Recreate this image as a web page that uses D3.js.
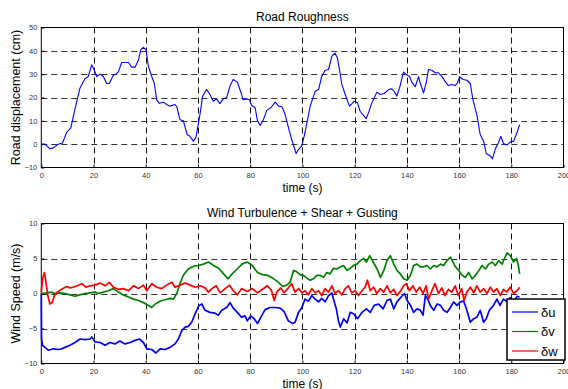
<!DOCTYPE html>
<html>
<head>
<meta charset="utf-8">
<script src="https://cdn.jsdelivr.net/npm/d3@7"></script>
<style>
  html, body { margin: 0; padding: 0; background: #fff; }
  svg { display: block; font-family: "Liberation Sans", Arial, sans-serif; }
</style>
</head>
<body>
<svg id="chart" width="568" height="389"></svg>
<script>
// Road roughness profile (time in s, displacement in cm)
const roadT = [0,1.4,3.3,4.6,6.5,8.1,9.7,11.3,12.9,14.8,16.7,18,19.3,20.2,21.2,22.5,23.8,25,26,27.6,28.6,29.5,30.8,32.1,33.4,34.6,35.9,37.2,38.1,39.1,40.1,41,42.3,43.3,44.2,45.2,46.8,48,49.3,51.2,51.9,53.1,54.4,55.9,56.9,58.2,59.2,60.8,61.8,63.3,64.6,65.9,67.1,68.4,69.7,71,72.3,73.5,75.1,76.3,77.3,78.6,79.7,80.6,81.9,82.8,83.8,85.1,86.4,87.9,89.6,90.9,92.2,93.4,94.2,95.9,97.6,98.5,99.8,101,103,104.9,106.2,107.4,108.7,110,111.3,112.5,113.4,114.2,115.1,116.4,118,119,119.8,121.1,122.1,123.4,124.4,125.3,126.6,128.5,129.8,131.3,133,134.2,135.1,136.2,137.4,138.7,139.7,141,141.9,143.2,144.5,145.1,146.4,147.4,148.3,149.6,150.8,152.1,153.4,154.6,155.9,157.2,158.5,159.4,160.2,161.5,163,164.3,165.3,166.8,168.1,169.4,170.4,172,172.8,173.9,175.1,176,177,178.3,179.6,180.9,182.2,183.2];
const roadV = [0,0,-2,-1.6,0,0.5,5,7,15,24,28,29,34,32,29,30,29,26,26,29.5,30,31,35,35,35,33,33,36,40.5,41.5,40.5,33.4,29,26,19,17.5,18,17,16.3,17,16,10.5,10,4,3.4,1.3,2.7,13,20.6,23.4,21.3,18.4,19.4,17.4,19.4,20,25,27.7,26.6,22.7,19,19.4,19,16.6,15.6,10,8,10.6,14.6,15.6,18,16.3,16,12.7,9,2,-4,-2.3,-0.6,5,16.3,22.7,23.4,29,31.7,32,37.7,39,37,32,25.6,21.3,16.3,17.4,18.4,17.7,14.1,12.3,10.9,13.4,17.7,22.3,21.3,21.7,23.4,23.7,22.7,20.6,24.9,30.9,29.9,29.1,26.6,24.6,28.9,26.3,22,26.3,32,31.7,30.6,30.6,29.1,27,25.1,25.6,25.1,26.3,28.9,27.7,27.4,26,19.1,12.7,4.1,1.3,-4,-5.1,-6.3,-2,0.6,3.4,0.3,-0.4,0.9,1.3,5,8.4];

// Wind components (m/s)
const uT = [0,0.1,0.5,1.4,2.7,4.6,6.5,7.8,9.1,11,12.9,14.8,16.7,18.7,19.3,20.6,22.5,24.4,26.3,28.2,30.1,32.1,34,35.9,37.6,39.1,40.4,42.3,43.9,45.5,47.4,49.3,51.2,52.5,53.8,55.1,56.3,57.6,58.9,60.4,61.5,62.7,64.6,66.5,67.8,69.1,71,72.3,73.5,75.1,76.7,78,78.9,80.2,81.5,82.8,83.8,85.7,87.6,89.6,91.5,93,94.6,96.3,97.2,98.5,99.8,101,102.3,103.6,104.9,106.2,107.4,108.7,110,111.3,111.9,113,113.8,114.5,115.8,117.1,118.3,119.6,121.1,122.8,124.5,126,127.5,129.2,130.9,132.4,133.7,135,136.2,137.8,139.1,140.1,141.4,142.6,143.9,145.2,146.2,147.1,148,149,150.3,151.6,152.9,154.1,155.4,156.7,157.9,159.2,160.5,161.8,163,164.3,165.6,166.8,168.1,169.4,170.4,171.6,173.2,174.5,175.7,177,178.3,179.6,181,182.2,183.2];
const uV = [0,-6.5,-7.4,-7.7,-8.1,-7.9,-8,-7.9,-7.7,-7.4,-7,-6.5,-6.6,-6.5,-6.2,-6.9,-7,-7.4,-7,-7.2,-6.8,-7.2,-7,-6.7,-6.5,-7,-7.9,-8,-8.5,-7.9,-8,-7.7,-7.2,-6.5,-5.3,-4.8,-4.7,-4.1,-2.9,-1.7,-1.5,-2.4,-2.7,-2.8,-3.1,-2.4,-2,-1.3,-2.1,-2.7,-3.4,-3.2,-3.9,-3.2,-3.6,-4.3,-3.6,-2.3,-2,-2,-2.1,-2.6,-3.9,-4.3,-4.1,-2.7,-2,-0.8,-1.1,-0.3,-0.8,-1.2,-0.7,-1.2,-0.3,0.1,-0.8,-2.2,-3.9,-4.8,-3.6,-4.2,-2.7,-2.9,-3.6,-2.7,-2.2,-2.7,-1.7,-1.5,-2.2,-1,-0.8,-2.2,-1.2,-0.5,0,-1,-1.7,-2.7,-2.2,-2.4,-3.1,-0.3,-0.8,-1.7,-2.4,-1.5,-1.7,-2.4,-2.7,-2,-1.2,-1.7,-1.2,-1.1,-2.4,-4.1,-3.6,-3.4,-2.4,-4.1,-3.6,-2.4,-1.7,-0.8,-1.7,-0.8,-1.1,-0.6,-1.2,-0.4,-0.5];

const vT = [0,2,3.9,5.2,7.2,9.1,11,12.9,14.8,16.7,18.7,20.6,21.9,23.8,25.7,27.6,29.5,31.4,33.4,35.3,37.2,39.1,41,42.3,43.6,45.5,47.4,49.3,50.6,51.9,53.1,54.4,56.3,58.3,60.2,62.1,64,66,67.9,69.8,71.5,73.1,75,76.9,78.9,80.8,82.8,84.7,86.6,88.6,90.5,92.5,94,95.3,96.6,97.8,99.1,100.4,101.7,103,104.2,105.5,106.8,108.1,109.3,110.6,111.9,113.2,114.5,115.8,117.1,118.3,119.6,120.9,122.2,123.5,124.5,125.8,127.1,128.6,129.9,131.2,132.4,133.7,135,136.2,137.5,138.8,140.1,141.4,142.6,143.9,145.2,146.4,147.7,149,150.3,151.6,152.9,154.1,155.4,156.7,157.7,158.6,159.9,161.2,162.4,163.7,165,166.3,167.6,168.8,170.1,171.4,172.7,173.9,175.2,176.5,177.4,178.4,179.6,180.9,182,182.7,183.2];
const vV = [0,0.1,0.2,0,0.1,0,-0.2,-0.4,-0.2,0,0.1,0.2,0,0.2,0.4,0.7,0.2,-0.2,-0.5,-0.8,-1,-1.3,-1.7,-2,-1.5,-1.1,-0.9,-0.7,-0.8,0,1.4,2.6,3.5,3.9,4,4.2,4.5,4,3.6,2.8,2.1,2.8,3.5,4.2,4.5,4,3,2.7,2.6,2.2,1.7,1,1.2,1.6,3.3,3.1,2.7,2.6,2.2,1.9,2.1,2.6,2.6,2.3,3,2.8,3.6,3.5,3.8,4,3.3,3.6,4,4.2,4.7,5,4.5,5.4,4.5,3.5,2.3,3.3,4.7,5.4,4.2,3.3,2.8,2.1,1.9,2.6,4,4.2,3.8,3.8,4,3.5,4,3.8,4.2,4,4.7,5.2,4.5,3.8,3.3,2.6,2.3,3,2.1,2.6,3.3,4,3.5,4.2,4.5,4,4.7,4.2,5,5.8,5.4,4.5,5,4,2.8];

const wT = [0,0.5,1.2,1.8,2.5,3.3,4.2,5,6.1,7.8,9.7,11,12.3,13.8,15.5,17.1,18.7,20.6,22.5,24.4,26.1,27.6,29.5,31.4,33.4,35.3,37.2,39.1,40.4,42.3,44.2,46.1,48,50,51.2,53.1,55.1,57,58.9,60.9,62.7,64,65.3,67,68.5,70.4,72.1,73.5,75.1,76.7,78.9,80.8,82.8,84.7,86.6,88.2,89.2,90.2,91.7,93,94.6,95.9,97.2,98.5,99.8,101,102.3,103.6,104.9,106.2,107.4,108.7,110,111.3,112.5,113.8,115.1,116.4,117.6,118.9,120.2,121.5,122.8,124,124.9,126,127.2,128.5,129.8,131.1,132.4,133.7,135,136.2,137.5,138.8,139.8,141,142.3,143.6,144.9,146.2,147.4,148.3,149.6,150.8,152.1,153.4,154.6,155.9,157.2,158.5,159.7,161,161.9,163,164.3,165.6,166.8,168.1,169.4,170.7,172,173.2,174.5,175.8,177,178.3,179.6,180.9,182.2,183.2];
const wV = [0.2,2.1,3,1.6,-0.3,-1.5,-1.3,-0.3,0.2,0.6,1,0.8,0.9,1.1,1.4,0.9,1.1,1.2,1.5,1.1,1.6,0.9,0.6,0.7,0.4,1.1,0.7,1.2,0.4,1.4,0.9,0.7,1.2,1.6,0.9,1.2,1.5,1.2,0.9,1.1,0.8,0.2,0.7,1.1,0.1,0.7,1.2,0.4,-0.2,0.7,0.3,0.7,0.1,0.6,1.1,0.4,-1,0.2,0.8,0.1,0.8,1.4,0.2,0.7,0.1,0.4,-0.2,0.7,0.1,0.4,-0.3,0.7,0.2,1.1,0,0.4,-0.2,0.7,1.1,0.1,0.4,-0.3,0.4,0.9,1.9,0.4,0.9,0,0.7,0.2,1.1,0.1,0.6,-0.3,0.3,1.1,1.4,0.4,1.1,0.2,0.9,0,1.1,-0.8,0.4,1.4,0,0.8,-0.3,0.6,0.2,1.1,-0.3,0.7,-1,0.2,0.9,0.1,1.1,0.2,0.7,0,0.9,0.2,0.7,-0.3,0.6,0.2,0.9,0,0.4,0.9];

const xTicks = [0,20,40,60,80,100,120,140,160,180,200];
const roadTicks = [50,40,30,20,10,0,-10];
const windTicks = [10,5,0,-5,-10];
const legendLabels = ["\u03B4u", "\u03B4v", "\u03B4w"];
const colors = { u: "#0000ff", v: "#008000", w: "#ff0000" };

const svg = d3.select("#chart");
const L = 41.3, R = 563.5;

function panel(y0, y1, yDomain, yTicks, title, ylabel) {
  const x = d3.scaleLinear().domain([0, 200]).range([L, R]);
  const y = d3.scaleLinear().domain(yDomain).range([y1, y0]);
  const g = svg.append("g");

  // dashed grid
  g.append("g").selectAll("line").data(xTicks.slice(1, -1)).join("line")
    .attr("x1", d => Math.round(x(d)) + 0.5).attr("x2", d => Math.round(x(d)) + 0.5)
    .attr("y1", y0).attr("y2", y1)
    .attr("stroke", "#111").attr("stroke-dasharray", "6,4");
  g.append("g").selectAll("line").data(yTicks.slice(1, -1)).join("line")
    .attr("x1", L).attr("x2", R)
    .attr("y1", d => Math.round(y(d)) + 0.5).attr("y2", d => Math.round(y(d)) + 0.5)
    .attr("stroke", "#333").attr("stroke-dasharray", "6,4");

  // axes with inward ticks
  const axB = d3.axisBottom(x).tickValues(xTicks).tickSize(-3).tickPadding(5).tickFormat(d3.format("d"));
  const axL = d3.axisLeft(y).tickValues(yTicks).tickSize(-3).tickPadding(4).tickFormat(d3.format("d"));
  const gb = g.append("g").attr("transform", `translate(0,${y1})`).call(axB);
  const gl = g.append("g").attr("transform", `translate(${L},0)`).call(axL);
  [gb, gl].forEach(a => {
    a.select(".domain").remove();
    a.selectAll("line").attr("stroke", "#000");
    a.selectAll("text").attr("font-size", "7.5px").attr("fill", "#333")
      .attr("font-family", "Liberation Sans, Arial, sans-serif");
  });

  // box
  g.append("rect").attr("x", L).attr("y", y0).attr("width", R - L).attr("height", y1 - y0)
    .attr("fill", "none").attr("stroke", "#000").attr("stroke-width", 1);

  g.append("text").attr("x", (L + R) / 2).attr("y", y0 - 7).attr("text-anchor", "middle")
    .attr("font-size", "12px").attr("fill", "#000").text(title);
  g.append("text").attr("x", (L + R) / 2).attr("y", y1 + 24).attr("text-anchor", "middle")
    .attr("font-size", "12px").attr("fill", "#000").text("time (s)");
  g.append("text").attr("transform", `translate(20,${(y0 + y1) / 2}) rotate(-90)`)
    .attr("text-anchor", "middle").attr("font-size", "12.5px").attr("fill", "#000").text(ylabel);

  return { x, y, g };
}

function drawSeries(p, ts, vs, color, width) {
  const pts = ts.map((t, i) => [t, vs[i]]);
  const line = d3.line().x(d => p.x(d[0])).y(d => p.y(d[1]));
  p.g.append("path").datum(pts).attr("d", line)
    .attr("fill", "none").attr("stroke", color).attr("stroke-width", width)
    .attr("stroke-linejoin", "round");
}

const roadPanel = panel(27.5, 167.5, [-10, 50], roadTicks, "Road Roughness", "Road displacement (cm)");
drawSeries(roadPanel, roadT, roadV, colors.u, 1.1);

const windPanel = panel(223.5, 363.5, [-10, 10], windTicks, "Wind Turbulence + Shear + Gusting", "Wind Speed (m/s)");
drawSeries(windPanel, uT, uV, colors.u, 1.7);
drawSeries(windPanel, vT, vV, colors.v, 1.7);
drawSeries(windPanel, wT, wV, colors.w, 1.7);

// legend
const lg = svg.append("g");
lg.append("rect").attr("x", 507).attr("y", 299).attr("width", 58).attr("height", 61)
  .attr("fill", "#fff").attr("stroke", "#000").attr("stroke-width", 1.5);
[colors.u, colors.v, colors.w].forEach((c, i) => {
  const yy = 312 + i * 19.5;
  lg.append("line").attr("x1", 512).attr("x2", 538).attr("y1", yy).attr("y2", yy)
    .attr("stroke", c).attr("stroke-width", 1.2);
  lg.append("text").attr("x", 541).attr("y", yy + 4.5).attr("font-size", "13px")
    .attr("fill", "#000").text(legendLabels[i]);
});
</script>
</body>
</html>
